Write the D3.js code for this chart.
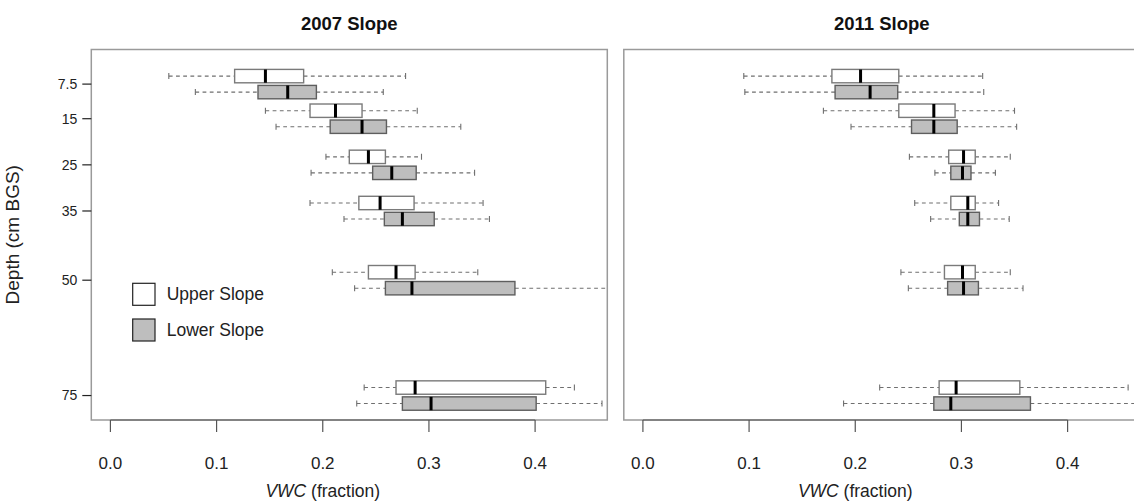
<!DOCTYPE html>
<html>
<head>
<meta charset="utf-8">
<script src="https://cdn.jsdelivr.net/npm/d3@7/dist/d3.min.js"></script>
<style>
  html, body { margin: 0; padding: 0; background: #fff; }
  svg { display: block; font-family: "Liberation Sans", Arial, Helvetica, sans-serif; }
</style>
</head>
<body>
<svg id="chart" width="1134" height="502"></svg>
<script>
// Soil volumetric water content by depth, upper vs lower slope.
const depths = [7.5, 15, 25, 35, 50, 75];
const xTicks = [0, 0.1, 0.2, 0.3, 0.4];
const panelTitles = ["2007 Slope", "2011 Slope"];
const groupNames = ["Upper Slope", "Lower Slope"];

// Each row: [whisker low, Q1, median, Q3, whisker high], one per depth
const upper2007 = [
  [0.055, 0.117, 0.146, 0.182, 0.278],
  [0.146, 0.188, 0.212, 0.237, 0.289],
  [0.203, 0.225, 0.243, 0.259, 0.293],
  [0.188, 0.234, 0.254, 0.286, 0.351],
  [0.209, 0.243, 0.269, 0.287, 0.346],
  [0.239, 0.269, 0.287, 0.410, 0.437]
];
const lower2007 = [
  [0.080, 0.139, 0.167, 0.194, 0.257],
  [0.156, 0.207, 0.237, 0.260, 0.330],
  [0.189, 0.247, 0.265, 0.288, 0.343],
  [0.220, 0.258, 0.275, 0.305, 0.357],
  [0.230, 0.259, 0.284, 0.381, 0.480],
  [0.232, 0.275, 0.302, 0.401, 0.463]
];
const upper2011 = [
  [0.095, 0.178, 0.205, 0.241, 0.320],
  [0.170, 0.241, 0.274, 0.294, 0.350],
  [0.251, 0.288, 0.302, 0.313, 0.346],
  [0.256, 0.290, 0.306, 0.313, 0.335],
  [0.243, 0.284, 0.301, 0.313, 0.346],
  [0.223, 0.279, 0.295, 0.355, 0.457]
];
const lower2011 = [
  [0.096, 0.181, 0.214, 0.240, 0.321],
  [0.196, 0.253, 0.274, 0.296, 0.352],
  [0.275, 0.290, 0.301, 0.309, 0.332],
  [0.271, 0.298, 0.306, 0.317, 0.345],
  [0.250, 0.287, 0.302, 0.316, 0.358],
  [0.189, 0.274, 0.290, 0.365, 0.470]
];

const panels = [
  { title: panelTitles[0], left: 91.3, groups: [upper2007, lower2007], yAxis: true },
  { title: panelTitles[1], left: 623.8, groups: [upper2011, lower2011], yAxis: false }
];

const fills = ["#ffffff", "#bebebe"];
const strokes = ["#7a7a7a", "#5e5e5e"];
const whiskerColor = "#6f6f6f";
const panelW = 516, plotTop = 49.5, plotBottom = 420;
const boxH = 13.4, pairOffset = 8;

const svg = d3.select("#chart");
const y = d3.scaleLinear().domain([0, 80.3]).range([plotTop, plotBottom]);

panels.forEach((p, pi) => {
  const x = d3.scaleLinear().domain([-0.018, 0.468]).range([p.left, p.left + panelW]);
  const g = svg.append("g");

  // clip region for marks
  const clipId = "clip" + pi;
  svg.append("clipPath").attr("id", clipId)
    .append("rect").attr("x", p.left).attr("y", plotTop).attr("width", panelW).attr("height", plotBottom - plotTop);

  // title
  g.append("text")
    .attr("x", p.left + panelW / 2).attr("y", 29.5)
    .attr("text-anchor", "middle")
    .attr("font-size", 18.5).attr("font-weight", "bold").attr("fill", "#111")
    .text(p.title);

  const marks = g.append("g").attr("clip-path", `url(#${clipId})`);

  p.groups.forEach((rows, gi) => {
    const off = gi === 0 ? -pairOffset : pairOffset;
    const grp = marks.append("g").selectAll("g").data(rows).join("g")
      .attr("transform", (d, i) => `translate(0,${y(depths[i]) + off})`);

    // whiskers (dashed)
    grp.append("line").attr("x1", d => x(d[0])).attr("x2", d => x(d[1]))
      .attr("stroke", whiskerColor).attr("stroke-width", 1.1).attr("stroke-dasharray", "3.8,3.4");
    grp.append("line").attr("x1", d => x(d[3])).attr("x2", d => x(d[4]))
      .attr("stroke", whiskerColor).attr("stroke-width", 1.1).attr("stroke-dasharray", "3.8,3.4");
    // staples
    grp.append("line").attr("x1", d => x(d[0])).attr("x2", d => x(d[0]))
      .attr("y1", -3).attr("y2", 3).attr("stroke", whiskerColor).attr("stroke-width", 1.1);
    grp.append("line").attr("x1", d => x(d[4])).attr("x2", d => x(d[4]))
      .attr("y1", -3).attr("y2", 3).attr("stroke", whiskerColor).attr("stroke-width", 1.1);
    // box
    grp.append("rect")
      .attr("x", d => x(d[1])).attr("width", d => x(d[3]) - x(d[1]))
      .attr("y", -boxH / 2).attr("height", boxH)
      .attr("fill", fills[gi]).attr("stroke", strokes[gi]).attr("stroke-width", 1.4);
    // median
    grp.append("line").attr("x1", d => x(d[2])).attr("x2", d => x(d[2]))
      .attr("y1", -boxH / 2).attr("y2", boxH / 2)
      .attr("stroke", "#000").attr("stroke-width", 3);
  });

  // frame
  g.append("rect")
    .attr("x", p.left).attr("y", plotTop).attr("width", panelW).attr("height", plotBottom - plotTop)
    .attr("fill", "none").attr("stroke", "#9a9a9a").attr("stroke-width", 1.5);

  // x axis
  const xa = g.append("g").attr("transform", `translate(0,${plotBottom})`);
  xa.append("line").attr("x1", x(xTicks[0])).attr("x2", x(xTicks[xTicks.length - 1]))
    .attr("stroke", "#555").attr("stroke-width", 1.2);
  xa.selectAll("line.tick").data(xTicks).join("line").attr("class", "tick")
    .attr("x1", d => x(d)).attr("x2", d => x(d)).attr("y1", 0).attr("y2", 12)
    .attr("stroke", "#555").attr("stroke-width", 1.2);
  xa.selectAll("text").data(xTicks).join("text")
    .attr("x", d => x(d)).attr("y", 49)
    .attr("text-anchor", "middle").attr("font-size", 17).attr("fill", "#222")
    .text(d => d3.format(".1f")(d));

  // x label
  const xl = g.append("text")
    .attr("x", x(0.2)).attr("y", 497)
    .attr("text-anchor", "middle").attr("font-size", 17.5).attr("fill", "#222");
  xl.append("tspan").attr("font-style", "italic").text("VWC");
  xl.append("tspan").text(" (fraction)");

  if (p.yAxis) {
    const ya = g.append("g");
    ya.selectAll("line").data(depths).join("line")
      .attr("x1", p.left - 9).attr("x2", p.left)
      .attr("y1", d => y(d)).attr("y2", d => y(d))
      .attr("stroke", "#222").attr("stroke-width", 1.2);
    ya.selectAll("text").data(depths).join("text")
      .attr("x", p.left - 14).attr("y", d => y(d))
      .attr("dy", "0.35em").attr("text-anchor", "end")
      .attr("font-size", 14).attr("fill", "#222")
      .text(d => d);

    svg.append("text")
      .attr("transform", `translate(19,${(plotTop + plotBottom) / 2}) rotate(-90)`)
      .attr("text-anchor", "middle").attr("font-size", 19).attr("fill", "#222")
      .text("Depth (cm BGS)");

    // legend
    const lg = g.append("g").attr("transform", "translate(132.7,283.3)");
    groupNames.forEach((name, i) => {
      lg.append("rect").attr("x", 0).attr("y", i * 35.7).attr("width", 22.3).attr("height", 22)
        .attr("fill", fills[i]).attr("stroke", "#222").attr("stroke-width", 1.2);
      lg.append("text").attr("x", 34).attr("y", i * 35.7 + 11).attr("dy", "0.35em")
        .attr("font-size", 17.5).attr("fill", "#222").text(name);
    });
  }
});
</script>
</body>
</html>
